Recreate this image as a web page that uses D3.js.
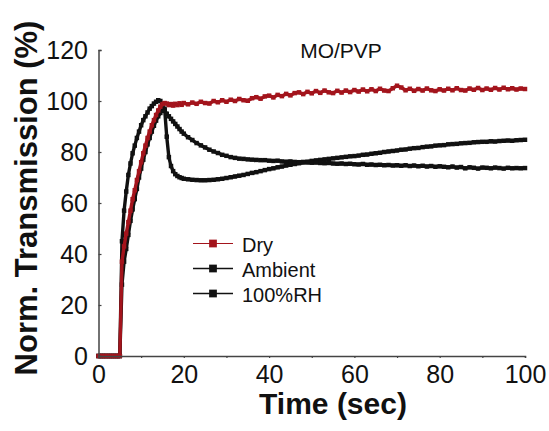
<!DOCTYPE html>
<html>
<head>
<meta charset="utf-8">
<script src="https://cdn.jsdelivr.net/npm/d3@7"></script>
<style>
  html, body { margin: 0; padding: 0; background: #fff; }
  svg { display: block; font-family: Arial, "Liberation Sans", Helvetica, sans-serif; }
</style>
</head>
<body>
<script>
// Sampling times (s): 0.5 s steps during the switching transient, 1 s afterwards
const time = [
  0, 0.5, 1, 1.5, 2, 2.5, 3, 3.5, 4, 4.5, 5,
  5.5, 6, 6.5, 7, 7.5, 8, 8.5, 9, 9.5, 10,
  10.5, 11, 11.5, 12, 12.5, 13, 13.5, 14, 14.5, 15,
  15.5, 16, 16.5, 17, 17.5, 18, 18.5, 19, 19.5, 20,
  21, 22, 23, 24, 25, 26, 27, 28, 29, 30,
  31, 32, 33, 34, 35, 36, 37, 38, 39, 40,
  41, 42, 43, 44, 45, 46, 47, 48, 49, 50,
  51, 52, 53, 54, 55, 56, 57, 58, 59, 60,
  61, 62, 63, 64, 65, 66, 67, 68, 69, 70,
  71, 72, 73, 74, 75, 76, 77, 78, 79, 80,
  81, 82, 83, 84, 85, 86, 87, 88, 89, 90,
  91, 92, 93, 94, 95, 96, 97, 98, 99, 100
];

// Normalized transmission (%) for each humidity condition
const dry = [
  0, 0, 0, 0, 0, 0, 0, 0, 0, 0, 0,
  37, 43, 48, 52.5, 57, 61.5, 65, 69, 72.5, 76,
  79.5, 82.5, 85.5, 88, 90.5, 92.5, 94.5, 96.3, 97.8, 98.8,
  99.2, 99.0, 98.4, 98.8, 98.2, 98.9, 98.4, 99.1, 98.5, 99.2,
  98.7, 99.4, 98.9, 99.7, 99.2, 99.0, 100.0, 99.5, 100.3, 99.7,
  100.5, 100.0, 100.8, 100.3, 100.1, 101.1, 101.5, 100.9, 101.8, 102.1,
  101.4, 102.4, 101.9, 102.8, 102.2, 103.1, 103.4, 102.7, 103.6, 103.0,
  103.9, 103.2, 104.1, 103.4, 103.1, 104.0, 103.3, 104.1, 103.5, 104.3,
  103.7, 104.5, 103.8, 104.6, 103.9, 104.8, 104.1, 103.9, 105.0, 106.0,
  105.3, 104.2, 104.8, 104.0, 104.7, 104.1, 104.9, 104.2, 103.9, 104.6,
  104.1, 104.8, 104.2, 105.0, 104.3, 104.1, 104.9, 104.4, 105.1, 104.3,
  104.9, 104.4, 105.1, 104.5, 105.2, 104.6, 105.0, 104.5, 104.9, 104.7
];

const ambient = [
  0, 0, 0, 0, 0, 0, 0, 0, 0, 0, 0,
  45, 57, 64.5, 71, 75.5, 79.5, 82.5, 85.5, 88, 90.5,
  92.5, 94, 95.5, 97, 98, 99, 99.7, 100.3, 100, 98.5,
  96.5, 95, 94, 93, 92, 91, 90, 89, 88, 87.2,
  85.8, 84.7, 83.5, 82.6, 81.8, 80.9, 80.2, 79.6, 78.9, 78.5,
  78.0, 77.7, 77.4, 77.3, 77.1, 77.0, 76.9, 76.8, 76.8, 76.6,
  76.5, 76.6, 76.3, 76.2, 76.3, 76.1, 76.0, 76.1, 75.9, 75.8,
  75.9, 75.7, 75.6, 75.7, 75.5, 75.4, 75.5, 75.3, 75.4, 75.2,
  75.1, 75.3, 75.0, 75.1, 74.9, 75.0, 74.8, 74.9, 74.7, 74.8,
  74.6, 74.8, 74.5, 74.7, 74.4, 74.6, 74.3, 74.5, 74.2, 74.4,
  74.2, 74.0, 74.3, 73.9, 74.1, 73.6, 74.0, 73.8, 73.5, 73.9,
  73.8, 73.6, 73.9, 73.7, 73.5, 73.8, 73.6, 73.7, 73.6, 73.7
];

const rh100 = [
  0, 0, 0, 0, 0, 0, 0, 0, 0, 0, 0,
  28, 37, 42, 47.5, 53, 57.5, 61.5, 65.5, 70, 73.5,
  77, 80, 83, 85.5, 88, 90.3, 92.3, 94, 95.3, 96.3,
  97, 86, 78, 74.5, 72.5, 71.3, 70.6, 70.1, 69.8, 69.5,
  69.3, 69.1, 69.0, 68.9, 68.9, 69.0, 69.1, 69.3, 69.5, 69.8,
  70.1, 70.4, 70.7, 71.0, 71.4, 71.8, 72.1, 72.5, 72.9, 73.3,
  73.6, 74.0, 74.3, 74.7, 75.0, 75.3, 75.6, 75.9, 76.2, 76.5,
  76.7, 76.9, 77.1, 77.3, 77.5, 77.7, 77.9, 78.1, 78.3, 78.4,
  78.6, 78.9, 79.0, 79.3, 79.5, 79.7, 80.0, 80.2, 80.4, 80.6,
  80.9, 81.0, 81.3, 81.5, 81.6, 81.9, 82.1, 82.2, 82.5, 82.6,
  82.7, 83.0, 83.1, 83.2, 83.4, 83.5, 83.6, 83.8, 83.9, 84.0,
  84.0, 84.2, 84.1, 84.3, 84.4, 84.5, 84.4, 84.6, 84.7, 84.8
];

const seriesNames = ["Dry", "Ambient", "100%RH"];
const xTicks = [0, 20, 40, 60, 80, 100];
const xMinorTicks = [10, 30, 50, 70, 90];
const yTicks = [0, 20, 40, 60, 80, 100, 120];
const chartTitle = "MO/PVP";
const xTitle = "Time (sec)";
const yTitle = "Norm. Transmission (%)";

const W = 549, H = 431;
const svg = d3.select("body").append("svg").attr("width", W).attr("height", H);

const x = d3.scaleLinear().domain([0, 100]).range([98.5, 525]);
const y = d3.scaleLinear().domain([0, 120]).range([356, 50]);

// Series styling: draw the black curves first so the red one sits on top
const series = [
  { name: seriesNames[2], values: rh100,   line: "#111", mark: "#111" },
  { name: seriesNames[1], values: ambient, line: "#111", mark: "#111" },
  { name: seriesNames[0], values: dry,     line: "#a3141c", mark: "#a3141c" }
];

const lineGen = d3.line().x((d, i) => x(time[i])).y(d => y(d));
const square = d3.symbol().type(d3.symbolSquare);

const plot = svg.append("g");
series.forEach(s => {
  plot.append("path")
    .datum(s.values)
    .attr("d", lineGen)
    .attr("fill", "none")
    .attr("stroke", s.line)
    .attr("stroke-width", 3.4)
    .attr("stroke-linejoin", "round");
  plot.append("g").selectAll("path")
    .data(s.values)
    .join("path")
    .attr("d", square.size(20))
    .attr("transform", (d, i) => `translate(${x(time[i])},${y(d)})`)
    .attr("fill", s.mark);
});

// Axes
const axisColor = "#444";
const xAxis = svg.append("g")
  .attr("transform", `translate(0,${y(0)})`)
  .call(d3.axisBottom(x).tickValues(xTicks).tickSize(2).tickPadding(7).tickFormat(d3.format("d")));
svg.append("g")
  .attr("transform", `translate(0,${y(0)})`)
  .call(d3.axisBottom(x).tickValues(xMinorTicks).tickSize(2).tickFormat(""))
  .call(g => g.select(".domain").remove());
const yAxis = svg.append("g")
  .attr("transform", `translate(${x(0)},0)`)
  .call(d3.axisLeft(y).tickValues(yTicks).tickSize(-3).tickPadding(10.5).tickFormat(d3.format("d")));

[xAxis, yAxis].forEach(g => {
  g.select(".domain").attr("stroke", axisColor).attr("stroke-width", 1.5);
  g.selectAll("text").attr("font-size", 25).attr("fill", "#111")
    .attr("font-family", "Arial, 'Liberation Sans', sans-serif");
});
svg.selectAll(".tick line").attr("stroke", axisColor).attr("stroke-width", 1.2);

// Titles
svg.append("text")
  .attr("x", 341).attr("y", 58)
  .attr("text-anchor", "middle")
  .attr("font-size", 21)
  .attr("fill", "#111")
  .text(chartTitle);

svg.append("text")
  .attr("x", 333).attr("y", 414)
  .attr("text-anchor", "middle")
  .attr("font-size", 30)
  .attr("font-weight", "bold")
  .attr("fill", "#111")
  .text(xTitle);

svg.append("text")
  .attr("transform", "translate(37,198) rotate(-90)")
  .attr("text-anchor", "middle")
  .attr("font-size", 31)
  .attr("font-weight", "bold")
  .attr("fill", "#111")
  .text(yTitle);

// Legend
const legendItems = [
  { name: seriesNames[0], color: "#a3141c", width: 1 },
  { name: seriesNames[1], color: "#111", width: 1.6 },
  { name: seriesNames[2], color: "#111", width: 1.6 }
];
const legend = svg.append("g").attr("transform", "translate(193,243.5)");
legendItems.forEach((d, i) => {
  const g = legend.append("g").attr("transform", `translate(0,${i * 25})`);
  g.append("line").attr("x1", 0).attr("x2", 40).attr("y1", 0).attr("y2", 0)
    .attr("stroke", d.color).attr("stroke-width", d.width);
  g.append("path").attr("d", square.size(60)).attr("transform", "translate(20,0)").attr("fill", d.color);
  g.append("text").attr("x", 49).attr("y", 8.5)
    .attr("font-size", 20).attr("fill", "#111").text(d.name);
});
</script>
</body>
</html>
